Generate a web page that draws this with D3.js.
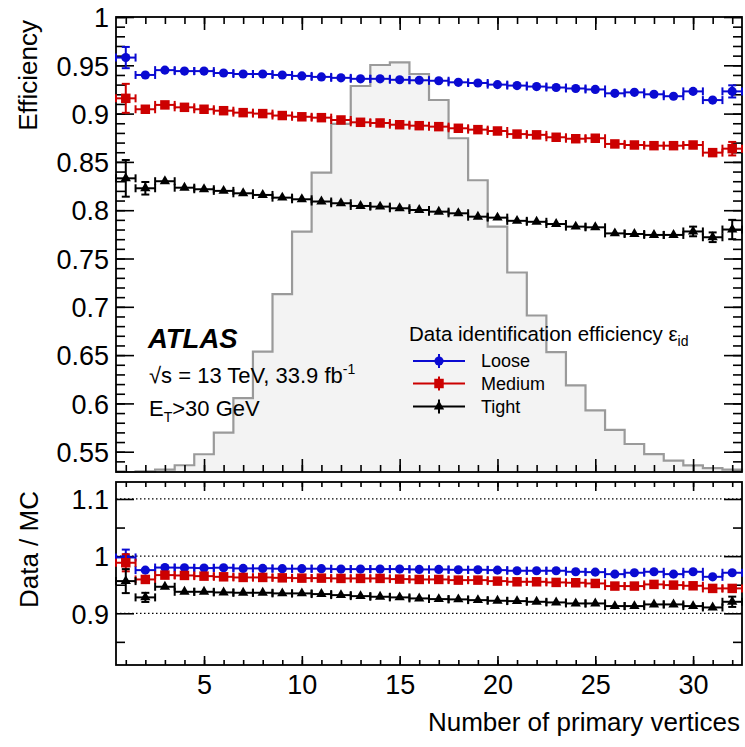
<!DOCTYPE html>
<head>
    <meta charset="utf-8">
    <script src="https://d3js.org/d3.v7.min.js"></script>
    <style>
        html, body { margin: 0; padding: 0; background: #fff; }
        svg { display: block; font-family: "Liberation Sans", Arial, Helvetica, sans-serif; }
        .axis path.domain { display: none; }
        .axis line { stroke: #000; stroke-width: 1.6; }
        .axis text { font-size: 27px; fill: #000; font-family: "Liberation Sans", Arial, sans-serif; }
    </style>
</head>
<body>
<svg width="745" height="747"></svg>
<script>
    // number of primary vertices (bin centres, bin width 1)
    var nvtx = [1, 2, 3, 4, 5, 6, 7, 8, 9, 10, 11, 12, 13, 14, 15, 16,
                17, 18, 19, 20, 21, 22, 23, 24, 25, 26, 27, 28, 29, 30, 31, 32];

    // data efficiencies
    var looseEff = [0.958, 0.940, 0.945, 0.944, 0.944, 0.942, 0.941, 0.941, 0.940, 0.939, 0.938, 0.937, 0.936, 0.936, 0.935, 0.9345,
                    0.934, 0.9324, 0.9317, 0.930, 0.929, 0.928, 0.927, 0.926, 0.925, 0.921, 0.922, 0.920, 0.918, 0.923, 0.914, 0.923];
    var looseErr = [0.011, 0.003, 0.002, 0.002, 0.002, 0.002, 0.002, 0.002, 0.002, 0.002, 0.002, 0.002, 0.002, 0.002, 0.002, 0.002,
                    0.002, 0.002, 0.002, 0.002, 0.002, 0.002, 0.002, 0.002, 0.002, 0.003, 0.003, 0.003, 0.003, 0.004, 0.004, 0.0063];
    var mediumEff = [0.9158, 0.9045, 0.909, 0.9065, 0.9045, 0.903, 0.901, 0.900, 0.898, 0.8967, 0.8958, 0.8934, 0.891, 0.8903, 0.8885, 0.8875,
                     0.8865, 0.8848, 0.8834, 0.882, 0.8788, 0.878, 0.8755, 0.874, 0.8745, 0.8686, 0.8675, 0.8668, 0.8668, 0.8675, 0.8596, 0.8637];
    var mediumErr = [0.015, 0.004, 0.003, 0.002, 0.002, 0.002, 0.002, 0.002, 0.002, 0.002, 0.002, 0.002, 0.002, 0.002, 0.002, 0.002,
                     0.002, 0.002, 0.002, 0.002, 0.002, 0.002, 0.002, 0.002, 0.002, 0.003, 0.003, 0.003, 0.003, 0.004, 0.005, 0.007];
    var tightEff = [0.833, 0.8227, 0.830, 0.8233, 0.8217, 0.820, 0.8175, 0.8158, 0.813, 0.8113, 0.809, 0.8072, 0.8044, 0.8037, 0.802, 0.8002,
                    0.7985, 0.7968, 0.7933, 0.7923, 0.789, 0.788, 0.7857, 0.783, 0.7823, 0.776, 0.7754, 0.7744, 0.7744, 0.778, 0.772, 0.780];
    var tightErr = [0.019, 0.0065, 0.004, 0.003, 0.002, 0.002, 0.002, 0.002, 0.002, 0.002, 0.002, 0.002, 0.002, 0.002, 0.002, 0.002,
                    0.002, 0.002, 0.002, 0.002, 0.002, 0.002, 0.002, 0.002, 0.003, 0.003, 0.003, 0.003, 0.004, 0.005, 0.005, 0.010];

    // data / MC ratios
    var looseRatio = [0.9977, 0.9755, 0.980, 0.9797, 0.9791, 0.9797, 0.9785, 0.9785, 0.978, 0.978, 0.978, 0.9773, 0.9773, 0.9773, 0.9773, 0.9767,
                      0.9767, 0.9761, 0.9761, 0.9755, 0.9744, 0.9744, 0.9744, 0.9726, 0.972, 0.9685, 0.9709, 0.9726, 0.9685, 0.9726, 0.9638, 0.9709];
    var looseRatioErr = [0.0137, 0.004, 0.003, 0.002, 0.002, 0.002, 0.002, 0.002, 0.002, 0.002, 0.002, 0.002, 0.002, 0.002, 0.002, 0.002,
                         0.002, 0.002, 0.002, 0.002, 0.002, 0.002, 0.002, 0.002, 0.002, 0.003, 0.003, 0.003, 0.003, 0.004, 0.004, 0.005];
    var mediumRatio = [0.9884, 0.9592, 0.9668, 0.9662, 0.965, 0.9638, 0.9627, 0.9627, 0.962, 0.9615, 0.9615, 0.961, 0.961, 0.961, 0.9598, 0.9592,
                       0.9592, 0.958, 0.958, 0.9563, 0.9551, 0.9551, 0.954, 0.9534, 0.9522, 0.9476, 0.9476, 0.9505, 0.9493, 0.9481, 0.9435, 0.9435];
    var mediumRatioErr = [0.015, 0.005, 0.003, 0.002, 0.002, 0.002, 0.002, 0.002, 0.002, 0.002, 0.002, 0.002, 0.002, 0.002, 0.002, 0.002,
                          0.002, 0.002, 0.002, 0.002, 0.002, 0.002, 0.002, 0.002, 0.002, 0.003, 0.003, 0.003, 0.003, 0.004, 0.005, 0.006];
    var tightRatio = [0.9563, 0.9278, 0.9464, 0.9376, 0.9376, 0.9365, 0.9359, 0.9359, 0.9348, 0.9348, 0.9336, 0.9318, 0.930, 0.9289, 0.9278, 0.926,
                      0.9248, 0.9243, 0.923, 0.9219, 0.9213, 0.9201, 0.919, 0.9172, 0.9172, 0.9126, 0.9126, 0.9155, 0.9155, 0.9126, 0.9102, 0.9201];
    var tightRatioErr = [0.021, 0.008, 0.004, 0.003, 0.002, 0.002, 0.002, 0.002, 0.002, 0.002, 0.002, 0.002, 0.002, 0.002, 0.002, 0.002,
                         0.002, 0.002, 0.002, 0.002, 0.002, 0.002, 0.002, 0.002, 0.003, 0.003, 0.003, 0.004, 0.004, 0.005, 0.006, 0.009];

    // MC pile-up distribution, drawn on the efficiency axis
    var mcShape = [0.529, 0.5296, 0.5314, 0.536, 0.5474, 0.5697, 0.6055, 0.6537, 0.7132, 0.7778, 0.8389, 0.8893, 0.9286, 0.9503, 0.9531, 0.941,
                   0.9141, 0.8745, 0.831, 0.7831, 0.7355, 0.691, 0.6531, 0.6186, 0.5927, 0.5727, 0.558, 0.5476, 0.5407, 0.5358, 0.5331, 0.5314];

    // ticks
    var xMajor = [5, 10, 15, 20, 25, 30];
    var xLabels = ["5", "10", "15", "20", "25", "30"];
    var effMajor = [0.55, 0.6, 0.65, 0.7, 0.75, 0.8, 0.85, 0.9, 0.95, 1.0];
    var effLabels = ["0.55", "0.6", "0.65", "0.7", "0.75", "0.8", "0.85", "0.9", "0.95", "1"];
    var ratioMajor = [0.9, 1.0, 1.1];
    var ratioLabels = ["0.9", "1", "1.1"];
    var ratioMinor = [0.85, 0.95, 1.05];

    var seriesNames = ["Loose", "Medium", "Tight"];
    var seriesColors = ["#0a0ad2", "#cc0000", "#000000"];
    var seriesShapes = [d3.symbolCircle, d3.symbolSquare, d3.symbolTriangle];
    var shapeSizes = [66, 90, 46];

    var svg = d3.select("svg");

    var x = d3.scaleLinear().domain([0.5, 32.5]).range([116, 742]);
    var yEff = d3.scaleLinear().domain([0.529, 1]).range([472, 17]);
    var yRatio = d3.scaleLinear().domain([0.8095, 1.1297]).range([665, 482]);

    var effMinor = d3.range(0.53, 1.0001, 0.01);

    // ---------- top panel ----------
    var topPanel = svg.append("g");

    var histPts = [[0.5, 0.529]];
    mcShape.forEach(function(v, i) {
        histPts.push([nvtx[i] - 0.5, v]);
        histPts.push([nvtx[i] + 0.5, v]);
    });
    histPts.push([32.5, 0.529]);

    var histLine = d3.line()
        .x(function(d) { return x(d[0]); })
        .y(function(d) { return yEff(d[1]); });

    topPanel.append("path")
        .attr("d", histLine(histPts))
        .attr("fill", "#f3f3f3")
        .attr("stroke", "#9a9a9a")
        .attr("stroke-width", 2.2);

    function ticks(g, yScale, yMaj, yMin, yLab, x0, x1, y0, y1, xMajLen, xMinLen, yMajLen, yMinLen, withX) {
        g.append("g").attr("class", "axis").attr("transform", "translate(" + x0 + ",0)")
            .call(d3.axisLeft(yScale).tickValues(yMin).tickSize(-yMinLen).tickFormat(""));
        g.append("g").attr("class", "axis").attr("transform", "translate(" + x0 + ",0)")
            .call(d3.axisLeft(yScale).tickValues(yMaj).tickSize(-yMajLen).tickPadding(7)
                .tickFormat(function(d, i) { return yLab[i]; }))
            .selectAll("text").attr("dy", "0.36em");
        g.append("g").attr("class", "axis").attr("transform", "translate(" + x1 + ",0)")
            .call(d3.axisRight(yScale).tickValues(yMin).tickSize(-yMinLen).tickFormat(""));
        g.append("g").attr("class", "axis").attr("transform", "translate(" + x1 + ",0)")
            .call(d3.axisRight(yScale).tickValues(yMaj).tickSize(-yMajLen).tickFormat(""));

        g.append("g").attr("class", "axis").attr("transform", "translate(0," + y0 + ")")
            .call(d3.axisTop(x).tickValues(nvtx).tickSize(-xMinLen).tickFormat(""));
        g.append("g").attr("class", "axis").attr("transform", "translate(0," + y0 + ")")
            .call(d3.axisTop(x).tickValues(xMajor).tickSize(-xMajLen).tickFormat(""));
        g.append("g").attr("class", "axis").attr("transform", "translate(0," + y1 + ")")
            .call(d3.axisBottom(x).tickValues(nvtx).tickSize(-xMinLen).tickFormat(""));
        g.append("g").attr("class", "axis").attr("transform", "translate(0," + y1 + ")")
            .call(d3.axisBottom(x).tickValues(xMajor).tickSize(-xMajLen).tickPadding(10)
                .tickFormat(function(d, i) { return withX ? xLabels[i] : ""; }));

        g.append("rect")
            .attr("x", x0).attr("y", y0)
            .attr("width", x1 - x0).attr("height", y1 - y0)
            .attr("fill", "none").attr("stroke", "#000").attr("stroke-width", 1.8);
    }

    function drawSeries(g, yScale, vals, errs, k) {
        var col = seriesColors[k];
        var s = g.append("g");
        var r = Math.sqrt(shapeSizes[k]) / 2 + 0.5;
        vals.forEach(function(v, i) {
            var cx = x(nvtx[i]), cy = yScale(v);
            var xl = x(nvtx[i] - 0.5), xr = x(nvtx[i] + 0.5);
            s.append("line").attr("x1", xl).attr("x2", xr).attr("y1", cy).attr("y2", cy);
            s.append("line").attr("x1", xl).attr("x2", xl).attr("y1", cy - 4).attr("y2", cy + 4);
            s.append("line").attr("x1", xr).attr("x2", xr).attr("y1", cy - 4).attr("y2", cy + 4);
            var eu = yScale(v + errs[i]), ed = yScale(v - errs[i]);
            if (cy - eu > r) {
                s.append("line").attr("x1", cx).attr("x2", cx).attr("y1", eu).attr("y2", ed);
                s.append("line").attr("x1", cx - 4).attr("x2", cx + 4).attr("y1", eu).attr("y2", eu);
                s.append("line").attr("x1", cx - 4).attr("x2", cx + 4).attr("y1", ed).attr("y2", ed);
            }
        });
        s.selectAll("line").attr("stroke", col).attr("stroke-width", 2);
        s.selectAll("path")
            .data(vals)
            .enter()
            .append("path")
            .attr("d", d3.symbol().type(seriesShapes[k]).size(shapeSizes[k]))
            .attr("transform", function(d, i) { return "translate(" + x(nvtx[i]) + "," + yScale(d) + ")"; })
            .attr("fill", col);
    }

    ticks(topPanel, yEff, effMajor, effMinor, effLabels, 116, 742, 17, 472, 13, 7, 18, 9, false);

    drawSeries(topPanel, yEff, looseEff, looseErr, 0);
    drawSeries(topPanel, yEff, mediumEff, mediumErr, 1);
    drawSeries(topPanel, yEff, tightEff, tightErr, 2);

    // ---------- bottom panel ----------
    var botPanel = svg.append("g");

    botPanel.selectAll(".ref")
        .data(ratioMajor)
        .enter()
        .append("line")
        .attr("x1", 116).attr("x2", 742)
        .attr("y1", function(d) { return yRatio(d); })
        .attr("y2", function(d) { return yRatio(d); })
        .attr("stroke", "#000")
        .attr("stroke-width", 1.2)
        .attr("stroke-dasharray", "1.5,2.5");

    ticks(botPanel, yRatio, ratioMajor, ratioMinor, ratioLabels, 116, 742, 482, 665, 9, 5, 18, 9, true);

    drawSeries(botPanel, yRatio, looseRatio, looseRatioErr, 0);
    drawSeries(botPanel, yRatio, mediumRatio, mediumRatioErr, 1);
    drawSeries(botPanel, yRatio, tightRatio, tightRatioErr, 2);

    // ---------- titles ----------
    svg.append("text")
        .attr("transform", "translate(37,20) rotate(-90)")
        .attr("text-anchor", "end")
        .style("font-size", "26px")
        .text("Efficiency");

    svg.append("text")
        .attr("transform", "translate(38,491) rotate(-90)")
        .attr("text-anchor", "end")
        .style("font-size", "26px")
        .text("Data / MC");

    svg.append("text")
        .attr("x", 740).attr("y", 731)
        .attr("text-anchor", "end")
        .style("font-size", "26px")
        .text("Number of primary vertices");

    // ---------- labels ----------
    svg.append("text")
        .attr("x", 148).attr("y", 348)
        .style("font-size", "27.5px")
        .style("font-weight", "bold")
        .style("font-style", "italic")
        .text("ATLAS");

    var t1 = svg.append("text").attr("x", 149).attr("y", 383).style("font-size", "22px");
    t1.append("tspan").text("\u221As = 13 TeV, 33.9 fb");
    t1.append("tspan").attr("dy", -9).style("font-size", "14px").text("-1");

    var t2 = svg.append("text").attr("x", 149).attr("y", 416).style("font-size", "22px");
    t2.append("tspan").text("E");
    t2.append("tspan").attr("dy", 6).style("font-size", "14px").text("T");
    t2.append("tspan").attr("dy", -6).text(">30 GeV");

    // ---------- legend ----------
    var lh = svg.append("text").attr("x", 409).attr("y", 341).style("font-size", "20.5px");
    lh.append("tspan").text("Data identification efficiency \u03B5");
    lh.append("tspan").attr("dy", 5).style("font-size", "14px").text("id");

    var legendY = [361, 383.5, 406.5];
    seriesNames.forEach(function(name, k) {
        var ly = legendY[k];
        var lg = svg.append("g");
        lg.append("line").attr("x1", 413).attr("x2", 465).attr("y1", ly).attr("y2", ly);
        lg.append("line").attr("x1", 439).attr("x2", 439).attr("y1", ly - 7).attr("y2", ly + 7);
        lg.selectAll("line").attr("stroke", seriesColors[k]).attr("stroke-width", 2);
        lg.append("path")
            .attr("d", d3.symbol().type(seriesShapes[k]).size(shapeSizes[k]))
            .attr("transform", "translate(439," + ly + ")")
            .attr("fill", seriesColors[k]);
        lg.append("text")
            .attr("x", 481).attr("y", ly + 6)
            .style("font-size", "18px")
            .text(name);
    });
</script>
</body>
